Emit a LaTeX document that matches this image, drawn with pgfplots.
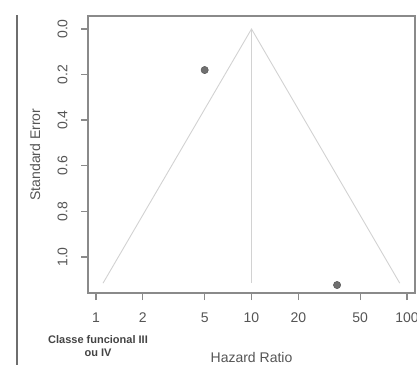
\documentclass[border=0pt]{standalone}
\usepackage{pgfplots}
\pgfplotsset{compat=1.18}
\usepackage{fontspec}
\setmainfont{Liberation Sans}
\definecolor{boxgray}{HTML}{8A8A8A}
\definecolor{txtgray}{HTML}{555555}
\definecolor{linegray}{HTML}{D2D2D2}
\definecolor{ptfill}{HTML}{707070}
\definecolor{ptdraw}{HTML}{5E5E5E}
\begin{document}
\begin{tikzpicture}
\begin{axis}[
  scale only axis,
  width=327pt, height=277pt,
  at={(88pt,-293pt)}, anchor=south west,
  xmode=log, log basis x=10,
  xmin=0.889, xmax=112.5,
  ymin=-1.158, ymax=0.057,
  axis line style={boxgray, line width=1.6pt},
  tick style={boxgray, line width=1.4pt},
  tick align=outside,
  xtick pos=lower, ytick pos=left,
  major tick length=7pt,
  minor tick num=0,
  xtick={1,2,5,10,20,50,100},
  xticklabels={1,2,5,10,20,50,100},
  ytick={0,-0.2,-0.4,-0.6,-0.8,-1.0},
  yticklabels={0.0,0.2,0.4,0.6,0.8,1.0},
  /pgf/number format/assume math mode=true,
  ticklabel style={font=\fontsize{14}{16}\selectfont, text=txtgray},
  xticklabel style={yshift=-9pt},
  yticklabel style={rotate=90, anchor=south, yshift=10pt},
  xlabel={Hazard Ratio},
  ylabel={Standard Error},
  xlabel style={at={(axis description cs:0.5,0)}, anchor=center, yshift=-64pt, font=\fontsize{14}{16}\selectfont, text=txtgray},
  ylabel style={at={(axis description cs:0,0.5)}, anchor=center, yshift=53pt, font=\fontsize{14}{16}\selectfont, text=txtgray},
  title={Hazard Ratio},
  title style={at={(axis description cs:0.469,1)}, anchor=center, yshift=16pt, font=\fontsize{13}{15}\selectfont, text=txtgray},
  clip=false,
]
% standard error plotted downward (negated), labels show SE
\addplot[linegray, line width=0.9pt, mark=none] coordinates {(1.11,-1.115) (10,0) (89.8,-1.115)};
\addplot[linegray, line width=0.9pt, mark=none] coordinates {(10,0) (10,-1.115)};
\addplot[only marks, mark=*, mark size=3.6pt, mark options={fill=ptfill, draw=ptdraw, line width=0.6pt}] coordinates {(5,-0.18) (35.5,-1.123)};
\end{axis}
\draw[boxgray!80!black, line width=1.4pt] (17pt,-15pt) -- (17pt,-365pt);
\node[align=center, font=\bfseries\fontsize{11}{13}\selectfont, text=txtgray!80!black] at (98pt,-346pt) {Classe funcional III\\ou IV};
\pgfresetboundingbox
\path (0pt,0pt) rectangle (417pt,-376pt);
\end{tikzpicture}
\end{document}
